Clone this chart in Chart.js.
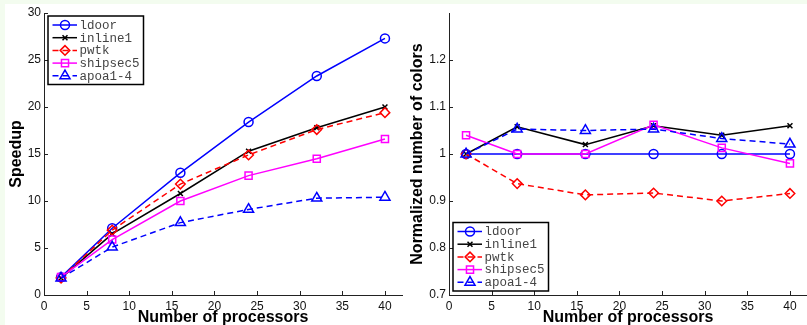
<!DOCTYPE html>
<html><head><meta charset="utf-8">
<script src="https://cdn.jsdelivr.net/npm/chart.js@4"></script>
<style>
html,body{margin:0;padding:0;background:#f3fcef;}
#wrap{position:relative;width:807px;height:325px;overflow:hidden}
#bg{position:absolute;left:5px;top:4px;right:0;bottom:0;background:#fff}
canvas{position:absolute;top:0}
</style></head>
<body><div id="wrap"><div id="bg"></div>
<canvas id="c1" width="403" height="325" style="left:0"></canvas>
<canvas id="c2" width="404" height="325" style="left:403px"></canvas>
</div>
<script>
const procs = [2, 8, 16, 24, 32, 40];
const seriesNames = ['ldoor', 'inline1', 'pwtk', 'shipsec5', 'apoa1-4'];
const xTickValues = [0, 5, 10, 15, 20, 25, 30, 35, 40];
const speedupTicks = [0, 5, 10, 15, 20, 25, 30];
const colorTicks = [0.7, 0.8, 0.9, 1.0, 1.1, 1.2];

const speedupLdoor    = [1.9, 7.1, 13.0, 18.4, 23.3, 27.3];
const speedupInline1  = [1.8, 6.5, 10.8, 15.3, 17.8, 20.0];
const speedupPwtk     = [1.8, 6.9, 11.8, 14.9, 17.6, 19.4];
const speedupShipsec5 = [1.9, 5.9, 10.0, 12.7, 14.5, 16.6];
const speedupApoa     = [1.8, 5.1, 7.7, 9.1, 10.3, 10.4];

const colorsLdoor    = [1.0, 1.0, 1.0, 1.0, 1.0, 1.0];
const colorsInline1  = [1.0, 1.058, 1.02, 1.06, 1.04, 1.06];
const colorsPwtk     = [1.0, 0.937, 0.913, 0.917, 0.900, 0.916];
const colorsShipsec5 = [1.04, 1.0, 1.0, 1.062, 1.013, 0.98];
const colorsApoa     = [1.0, 1.053, 1.05, 1.053, 1.033, 1.021];

const styles = [
  {c:'#0000ff', dash:[], ps:'circle', r:4.5},
  {c:'#000000', dash:[], ps:'crossRot', r:3.5},
  {c:'#ff0000', dash:[6,4], ps:'rectRot', r:4.8},
  {c:'#ff00ff', dash:[], ps:'rect', r:5},
  {c:'#0000ff', dash:[6,4], ps:'triangle', r:5.8}
];

function makeDatasets(arrs){
  return arrs.map((vals,i)=>({
    label: seriesNames[i],
    data: procs.map((x,j)=>({x:x, y:vals[j]})),
    borderColor: styles[i].c,
    backgroundColor: 'transparent',
    borderWidth: 1.5,
    borderDash: styles[i].dash,
    pointStyle: styles[i].ps,
    pointRadius: styles[i].r,
    pointBorderWidth: 1.5,
    pointBorderColor: styles[i].c,
    pointBackgroundColor: 'transparent',
    showLine: true,
    tension: 0,
    clip: false,
    order: 10 - i
  }));
}

const FONT = "'Liberation Sans', Arial, sans-serif";

function decorPlugin(cfg){
  return {
    id: 'decor',
    afterDatasetsDraw(chart){
      const ctx = chart.ctx, a = chart.chartArea;
      const xs = chart.scales.x, ys = chart.scales.y;
      ctx.save();
      // inward ticks
      ctx.strokeStyle = '#222'; ctx.lineWidth = 1; ctx.setLineDash([]);
      ctx.beginPath();
      xs.ticks.forEach(t=>{ const p = Math.round(xs.getPixelForValue(t.value))+0.5; ctx.moveTo(p, a.bottom); ctx.lineTo(p, a.bottom-4); });
      ys.ticks.forEach(t=>{ const p = Math.round(ys.getPixelForValue(t.value))+0.5; ctx.moveTo(a.left, p); ctx.lineTo(a.left+4, p); });
      ctx.stroke();
      // axis titles
      ctx.fillStyle = '#000';
      ctx.font = 'bold 16px ' + FONT;
      ctx.textAlign = 'center'; ctx.textBaseline = 'middle';
      ctx.fillText('Number of processors', (a.left + a.right)/2, 317.5);
      ctx.save();
      ctx.translate(cfg.yTitleX, (a.top + a.bottom)/2);
      ctx.rotate(-Math.PI/2);
      ctx.fillText(cfg.yTitle, 0, 0);
      ctx.restore();
      // legend
      const bx = a.left + cfg.legX, bw = 95.5, bh = 68.5;
      const by = cfg.legTop != null ? a.top + cfg.legTop : a.bottom - cfg.legBottom - bh;
      ctx.fillStyle = '#fff';
      ctx.fillRect(bx, by, bw, bh);
      ctx.strokeStyle = '#000'; ctx.lineWidth = 1.5;
      ctx.strokeRect(bx, by, bw, bh);
      chart.data.datasets.forEach((ds,i)=>{
        const y = by + 9 + i*12.7;
        ctx.strokeStyle = ds.borderColor; ctx.lineWidth = 1.5;
        ctx.setLineDash(ds.borderDash);
        ctx.beginPath(); ctx.moveTo(bx+4.5, y); ctx.lineTo(bx+29, y); ctx.stroke();
        ctx.setLineDash([]);
        ctx.fillStyle = 'rgba(0,0,0,0)';
        Chart.helpers.drawPoint(ctx, {pointStyle: ds.pointStyle, radius: ds.pointRadius, rotation: 0, borderWidth: 1.5}, bx+17, y);
        ctx.fillStyle = '#444';
        ctx.font = "12.5px 'Liberation Mono', 'DejaVu Sans Mono', monospace";
        ctx.textAlign = 'left'; ctx.textBaseline = 'middle';
        ctx.fillText(ds.label, bx + 31.5, y + 0.5);
      });
      ctx.restore();
    }
  };
}

function makeChart(id, arrs, yMin, yMax, yTicks, yWidth, cfg){
  return new Chart(document.getElementById(id), {
    type: 'scatter',
    data: { datasets: makeDatasets(arrs) },
    options: {
      responsive: false,
      animation: false,
      layout: { autoPadding: false, padding: { top: 13, right: cfg.padRight, left: 0, bottom: 0 } },
      plugins: { legend: {display:false}, tooltip: {enabled:false} },
      scales: {
        x: {
          type: 'linear', min: 0, max: 42,
          afterBuildTicks: s => { s.ticks = xTickValues.map(v=>({value:v})); },
          afterFit: s => { s.height = 30; s.paddingLeft = 0; s.paddingRight = 0; },
          grid: { drawOnChartArea: false, drawTicks: false },
          border: { display: true, color: '#222', width: 1 },
          ticks: { padding: 4, color: '#111', font: { family: FONT, size: 12 }, callback: v => String(v), maxRotation: 0, autoSkip: false }
        },
        y: {
          type: 'linear', min: yMin, max: yMax,
          afterBuildTicks: s => { s.ticks = yTicks.map(v=>({value:v})); },
          afterFit: s => { s.width = yWidth; s.paddingTop = 0; s.paddingBottom = 0; },
          grid: { drawOnChartArea: false, drawTicks: false },
          border: { display: true, color: '#222', width: 1 },
          ticks: { padding: 3, color: '#111', font: { family: FONT, size: 12 }, callback: v => String(+(+v).toFixed(1)), autoSkip: false }
        }
      }
    },
    plugins: [decorPlugin(cfg)]
  });
}

makeChart('c1', [speedupLdoor, speedupInline1, speedupPwtk, speedupShipsec5, speedupApoa],
  0, 30, speedupTicks, 44, {yTitle:'Speedup', yTitleX:17, legX:4, legTop:3, padRight:1});
makeChart('c2', [colorsLdoor, colorsInline1, colorsPwtk, colorsShipsec5, colorsApoa],
  0.7, 1.3, colorTicks, 46, {yTitle:'Normalized number of colors', yTitleX:15, legX:4, legBottom:4, padRight:0});
</script>
</body></html>
